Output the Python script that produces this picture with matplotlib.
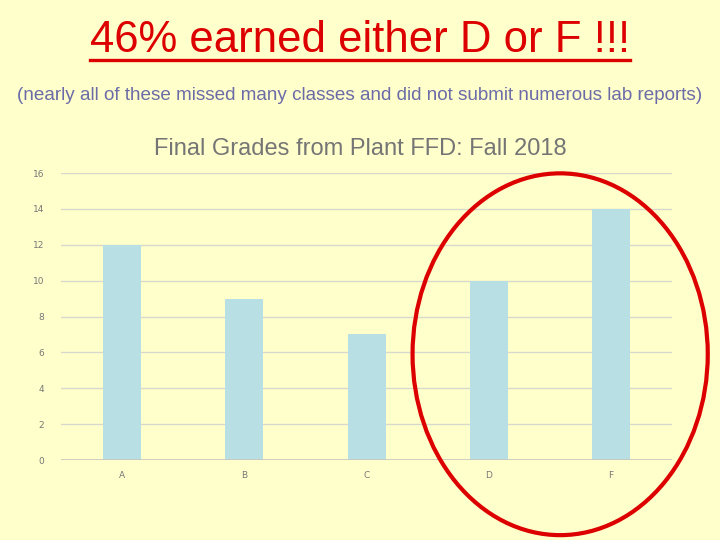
import matplotlib
matplotlib.use("Agg")
import matplotlib.pyplot as plt
from matplotlib.patches import Ellipse
from matplotlib.lines import Line2D

# ── data ─────────────────────────────────────────────────────────────────────
grades = ["A", "B", "C", "D", "F"]
counts = [12, 9, 7, 10, 14]
y_ticks = [0, 2, 4, 6, 8, 10, 12, 14, 16]

# ── style ─────────────────────────────────────────────────────────────────────
BG = "#ffffcc"
C_BAR = "#b8dfe4"
C_GRID = "#d8d8cc"
C_RED = "#dd0000"
FONT = "Liberation Sans"

fig = plt.figure(figsize=(7.2, 5.4), dpi=100)
fig.patch.set_facecolor(BG)

# headline + note
head = fig.text(0.5, 0.925, "46% earned either D or F !!!", ha="center", va="center",
                fontsize=31.5, color=C_RED, family=FONT)
fig.text(0.5, 0.824, "(nearly all of these missed many classes and did not submit numerous lab reports)",
         ha="center", va="center", fontsize=13.6, color="#6b6ba8", family=FONT)

# underline from the headline's extent
fig.canvas.draw()
bb = head.get_window_extent().transformed(fig.transFigure.inverted())
fig.add_artist(Line2D([bb.x0, bb.x1], [bb.y0 + 0.002, bb.y0 + 0.002],
                      transform=fig.transFigure, color=C_RED, linewidth=2.4))

# ── chart ─────────────────────────────────────────────────────────────────────
ax = fig.add_axes([0.0847, 0.1481, 0.849, 0.5315])
ax.set_facecolor(BG)
ax.bar(range(len(grades)), counts, width=0.31, color=C_BAR, zorder=2)
ax.set_xlim(-0.5, len(grades) - 0.5)
ax.set_ylim(0, 16)
ax.set_yticks(y_ticks)
ax.set_xticks(range(len(grades)))
ax.set_xticklabels(grades)
ax.yaxis.grid(True, color=C_GRID, linewidth=1, zorder=0)
ax.axhline(0, color="#c8c8bc", linewidth=1.2, zorder=3)
for s in ax.spines.values():
    s.set_visible(False)
ax.tick_params(length=0, labelsize=6.5, labelcolor="#777777", pad=8)
ax.tick_params(axis="y", pad=12)

fig.text(0.5, 0.724, "Final Grades from Plant FFD: Fall 2018", ha="center", va="center",
         fontsize=17, color="#757575", family=FONT)

# red ellipse around D and F
fig.add_artist(Ellipse((0.778, 0.344), 0.41, 0.67, transform=fig.transFigure,
                       fill=False, edgecolor=C_RED, linewidth=3))

fig.savefig("out.png", dpi=100, facecolor=BG)
